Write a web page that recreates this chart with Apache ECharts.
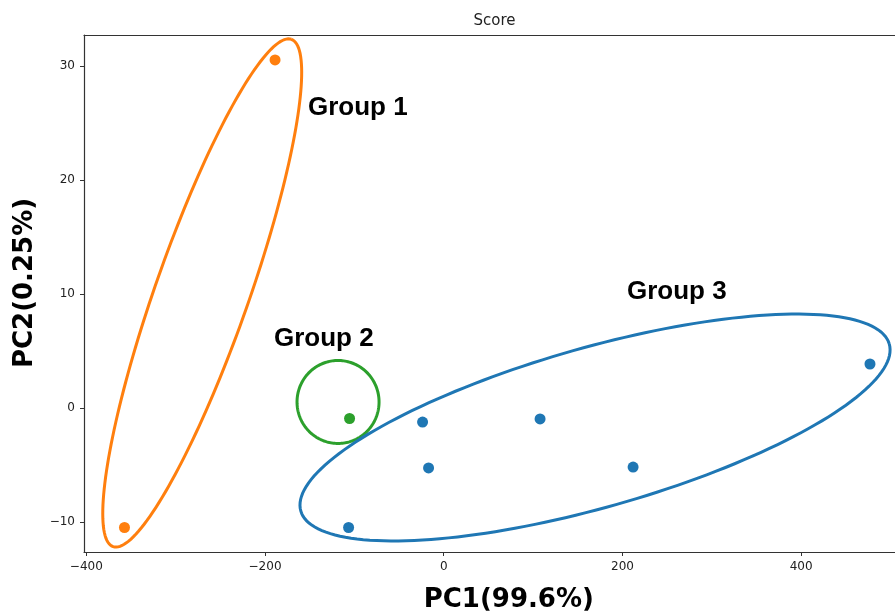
<!DOCTYPE html>
<html>
<head>
<meta charset="utf-8">
<script src="https://cdn.jsdelivr.net/npm/echarts@6/dist/echarts.min.js"></script>
<style>html,body{margin:0;padding:0;background:#fff}#c{width:895px;height:613px}</style>
</head>
<body>
<div id="c"></div>
<script>
// ---- data ----
const xTicks = [-400, -200, 0, 200, 400];
const yTicks = [-10, 0, 10, 20, 30];
const group1Points = [[-188.8, 30.53], [-357.3, -10.48]];
const group2Points = [[-105.4, -0.92]];
const group3Points = [[-23.7, -1.23], [-17.0, -5.26], [107.8, -0.96], [211.9, -5.18], [-106.5, -10.48], [477.0, 3.86]];
// ellipses: [centerX, centerY, halfAxis1X, halfAxis1Y, halfAxis2X, halfAxis2Y] in data units
const group1Ellipse = [-270.3, 10.09, 99.8, 22.25, -49.3, 1.36];
const group2Ellipse = [-118.3, 0.53, 45.9, 0, 0, 3.64];
const group3Ellipse = [169.3, -1.71, 329.3, 7.32, -24.4, 6.74];
const groupNames = ['Group 1', 'Group 2', 'Group 3'];
const titleText = 'Score';
const xName = 'PC1(99.6%)';
const yName = 'PC2(0.25%)';

const colors = ['#ff7f0e', '#2ca02c', '#1f77b4'];
const chart = echarts.init(document.getElementById('c'), null, {renderer: 'canvas'});
const minus = v => String(v).replace('-', '\u2212');

function ellipseSeries(e, color) {
  return {
    type: 'custom',
    coordinateSystem: 'cartesian2d',
    xAxisIndex: 0, yAxisIndex: 0,
    silent: true,
    clip: false,
    z: 1,
    data: [e],
    renderItem: function (params, api) {
      const cx = api.value(0), cy = api.value(1);
      const ux = api.value(2), uy = api.value(3), vx = api.value(4), vy = api.value(5);
      const pts = [];
      const n = 180;
      for (let i = 0; i <= n; i++) {
        const t = i / n * Math.PI * 2;
        const c = Math.cos(t), s = Math.sin(t);
        pts.push(api.coord([cx + c * ux + s * vx, cy + c * uy + s * vy]));
      }
      return {
        type: 'polyline',
        shape: {points: pts},
        style: {stroke: color, lineWidth: 3, fill: null}
      };
    }
  };
}

function scatterSeries(d, color) {
  return {
    type: 'scatter', data: d, symbolSize: 11, z: 3,
    itemStyle: {color: color, opacity: 1}
  };
}

const axisLabelStyle = {fontFamily: 'DejaVu Sans', fontSize: 12, color: '#222'};

chart.setOption({
  animation: false,
  backgroundColor: '#fff',
  grid: {left: 84, top: 35, right: 0, bottom: 61, containLabel: false},
  xAxis: [{
    type: 'value', min: -402.6, max: 505,
    axisLine: {show: true, onZero: false, lineStyle: {color: '#333', width: 1.2}},
    axisTick: {show: true, length: 4, customValues: xTicks, lineStyle: {color: '#333'}},
    axisLabel: Object.assign({customValues: xTicks, margin: 9, formatter: minus}, axisLabelStyle),
    splitLine: {show: false}
  }, {
    type: 'value', min: -402.6, max: 505, position: 'top',
    axisLine: {show: true, onZero: false, lineStyle: {color: '#333', width: 1.2}},
    axisTick: {show: false}, axisLabel: {show: false}, splitLine: {show: false}
  }],
  yAxis: [{
    type: 'value', min: -12.63, max: 32.72,
    axisLine: {show: true, onZero: false, lineStyle: {color: '#333', width: 1.2}},
    axisTick: {show: true, length: 4, customValues: yTicks, lineStyle: {color: '#333'}},
    axisLabel: Object.assign({customValues: yTicks, margin: 9, formatter: minus}, axisLabelStyle),
    splitLine: {show: false}
  }],
  series: [
    ellipseSeries(group1Ellipse, colors[0]),
    ellipseSeries(group2Ellipse, colors[1]),
    ellipseSeries(group3Ellipse, colors[2]),
    scatterSeries(group3Points, colors[2]),
    scatterSeries(group1Points, colors[0]),
    scatterSeries(group2Points, colors[1])
  ],
  graphic: [
    {type: 'text', x: 494.5, y: 21, style: {text: titleText, font: '15px "DejaVu Sans"', fill: '#222', align: 'center', verticalAlign: 'middle'}},
    {type: 'text', x: 508.8, y: 600, style: {text: xName, font: 'bold 26px "DejaVu Sans"', fill: '#000', align: 'center', verticalAlign: 'middle'}},
    {type: 'text', x: 25, y: 283, rotation: Math.PI / 2, style: {text: yName, font: 'bold 26px "DejaVu Sans"', fill: '#000', align: 'center', verticalAlign: 'middle'}},
    {type: 'text', x: 308, y: 108, style: {text: groupNames[0], font: 'bold 26px "Liberation Sans"', fill: '#000', align: 'left', verticalAlign: 'middle'}},
    {type: 'text', x: 274, y: 339, style: {text: groupNames[1], font: 'bold 26px "Liberation Sans"', fill: '#000', align: 'left', verticalAlign: 'middle'}},
    {type: 'text', x: 627, y: 292, style: {text: groupNames[2], font: 'bold 26px "Liberation Sans"', fill: '#000', align: 'left', verticalAlign: 'middle'}}
  ]
});
</script>
</body>
</html>
